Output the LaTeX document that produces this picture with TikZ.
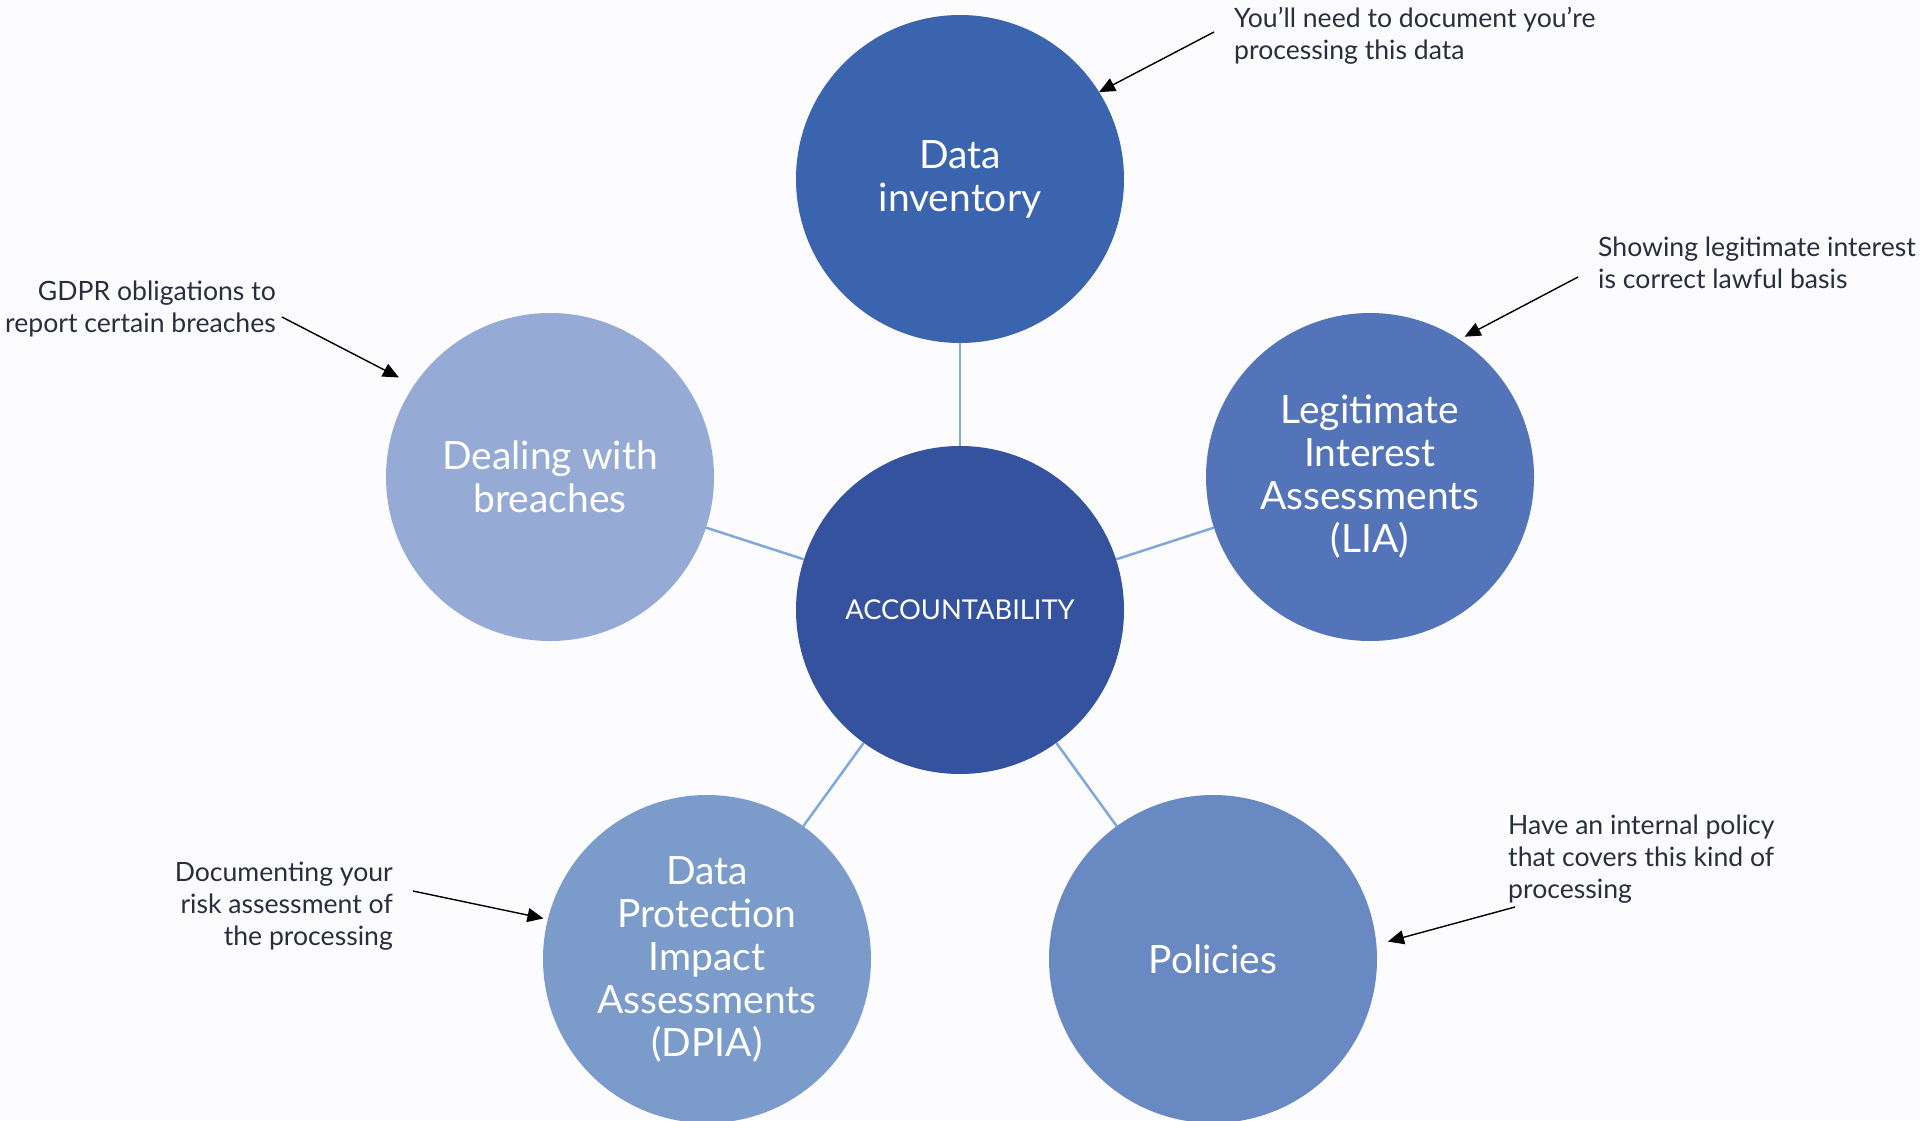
\documentclass[tikz,border=0pt]{standalone}
\usepackage{fontspec}
\setmainfont{Lato}
\usetikzlibrary{arrows.meta}
\definecolor{bgc}{RGB}{252,251,254}
\definecolor{cDI}{RGB}{58,101,174}
\definecolor{cAC}{RGB}{53,82,159}
\definecolor{cBR}{RGB}{149,170,212}
\definecolor{cLI}{RGB}{83,116,185}
\definecolor{cDP}{RGB}{123,155,202}
\definecolor{cPO}{RGB}{104,137,194}
\definecolor{link}{RGB}{127,169,218}
\definecolor{notec}{RGB}{39,47,60}
\tikzset{
  bubble/.style={circle, minimum size=328pt, inner sep=0pt, outer sep=0pt, text=white, align=center,
    font=\fontsize{39}{43}\selectfont},
  spoke/.style={draw=link, line width=2.5pt},
  note/.style={inner sep=0pt, text=notec, font=\fontsize{26.6}{32}\selectfont},
  pointer/.style={draw=black, line width=1.4pt, -{Triangle[length=16pt,width=14pt]}}
}
\begin{document}
\begin{tikzpicture}[x=1pt,y=-1pt]
\fill[bgc] (0,0) rectangle (1920,1120);
\useasboundingbox (0,0) rectangle (1920,1120);
\begin{scope}
\clip (0,0) rectangle (1920,1120);
\node[bubble, fill=cAC, font=\fontsize{27.3}{32}\selectfont] (ac) at (960,610) {ACCOUNTABILITY};
\node[bubble, fill=cDI] (di) at (960,179) {Data\\inventory};
\node[bubble, fill=cBR] (br) at (550,477) {Dealing with\\breaches};
\node[bubble, fill=cLI] (li) at (1370,477) {Legitimate\\Interest\\Assessments\\(LIA)};
\node[bubble, fill=cDP] (dp) at (707,959) {Data\\Protection\\Impact\\Assessments\\(DPIA)};
\node[bubble, fill=cPO] (po) at (1213,959) {Policies};
\end{scope}
\draw[spoke] (ac) -- (di);
\draw[spoke] (ac) -- (br);
\draw[spoke] (ac) -- (li);
\draw[spoke] (ac) -- (dp);
\draw[spoke] (ac) -- (po);
% notes
\node[note, anchor=north west, align=left] (n1) at (1234,7) {You’ll need to document you’re\\processing this data};
\node[note, anchor=north west, align=left] (n2) at (1598,237) {Showing legitimate interest\\is correct lawful basis};
\node[note, anchor=north east, align=right] (n3) at (276,281) {GDPR obligations to\\report certain breaches};
\node[note, anchor=north east, align=right] (n4) at (393,862) {Documenting your\\risk assessment of\\the processing};
\node[note, anchor=north west, align=left] (n5) at (1508,815) {Have an internal policy\\that covers this kind of\\processing};
\coordinate (s1) at (1214,32);
\coordinate (s2) at (1578,277);
\coordinate (s3) at (282,317);
\coordinate (s4) at (413,891);
\coordinate (s5) at (1515,907);
\draw[pointer] (s1) -- (di.32.7);
\draw[pointer, shorten >=6pt] (s2) -- (li.57.7);
\draw[pointer, shorten >=17pt] (s3) -- (br.146);
\draw[pointer, shorten >=4.5pt] (s4) -- (dp.166.6);
\draw[pointer, shorten >=12pt] (s5) -- (po.5.2);
\end{tikzpicture}
\end{document}
